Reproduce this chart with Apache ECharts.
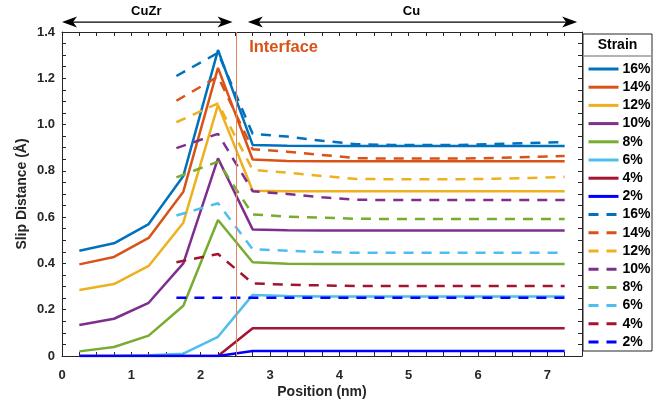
<!DOCTYPE html>
<html>
<head>
<meta charset="utf-8">
<script src="https://cdn.jsdelivr.net/npm/echarts@6/dist/echarts.min.js"></script>
<style>html,body{margin:0;padding:0;background:#fff}#main{width:667px;height:407px}</style>
</head>
<body>
<div id="main"></div>
<script>
var myChart = echarts.init(document.getElementById('main'));

// strain levels and their colours (solid first, then dashed)
var strains = ['16%', '14%', '12%', '10%', '8%', '6%', '4%', '2%'];
var colors = ['#0072BD', '#D95319', '#EDB120', '#7E2F8E', '#77AC30', '#4DBEEE', '#A2142F', '#0000FF'];

// solid lines
var solidX = [0.25, 0.75, 1.25, 1.75, 2.25, 2.75, 3.25, 3.75, 4.25, 4.75, 5.25, 5.75, 6.25, 6.75, 7.25];
var solid16 = [0.455, 0.487, 0.570, 0.778, 1.322, 0.912, 0.908, 0.907, 0.907, 0.907, 0.907, 0.907, 0.907, 0.907, 0.907];
var solid14 = [0.396, 0.428, 0.510, 0.710, 1.245, 0.849, 0.843, 0.841, 0.841, 0.841, 0.841, 0.841, 0.841, 0.841, 0.841];
var solid12 = [0.285, 0.311, 0.389, 0.576, 1.085, 0.714, 0.712, 0.712, 0.712, 0.712, 0.712, 0.712, 0.712, 0.712, 0.712];
var solid10 = [0.134, 0.161, 0.230, 0.400, 0.854, 0.547, 0.543, 0.542, 0.542, 0.542, 0.542, 0.542, 0.542, 0.542, 0.542];
var solid8 = [0.020, 0.039, 0.088, 0.217, 0.588, 0.405, 0.399, 0.398, 0.398, 0.398, 0.398, 0.398, 0.398, 0.398, 0.398];
var solid6 = [0, 0, 0.003, 0.010, 0.083, 0.264, 0.259, 0.257, 0.257, 0.257, 0.257, 0.257, 0.257, 0.257, 0.257];
var solid4 = [0, 0, 0, 0, 0, 0.120, 0.120, 0.120, 0.120, 0.120, 0.120, 0.120, 0.120, 0.120, 0.120];
var solid2 = [0, 0, 0, 0, 0, 0.022, 0.022, 0.022, 0.022, 0.022, 0.022, 0.022, 0.022, 0.022, 0.022];

// dashed lines
var dashX = [1.65, 2.25, 2.75, 3.25, 3.75, 4.25, 4.75, 5.25, 5.75, 6.25, 6.75, 7.25];
var dash16 = [1.210, 1.310, 0.960, 0.948, 0.930, 0.915, 0.912, 0.912, 0.912, 0.916, 0.920, 0.925];
var dash14 = [1.103, 1.207, 0.893, 0.883, 0.869, 0.855, 0.853, 0.853, 0.853, 0.856, 0.860, 0.864];
var dash12 = [1.010, 1.092, 0.804, 0.792, 0.778, 0.765, 0.764, 0.764, 0.764, 0.766, 0.769, 0.774];
var dash10 = [0.898, 0.960, 0.712, 0.700, 0.686, 0.675, 0.674, 0.674, 0.674, 0.674, 0.674, 0.674];
var dash8 = [0.772, 0.840, 0.612, 0.602, 0.598, 0.593, 0.592, 0.592, 0.592, 0.592, 0.592, 0.592];
var dash6 = [0.607, 0.660, 0.461, 0.455, 0.449, 0.446, 0.446, 0.446, 0.446, 0.446, 0.446, 0.446];
var dash4 = [0.405, 0.441, 0.314, 0.308, 0.305, 0.302, 0.302, 0.302, 0.302, 0.302, 0.302, 0.302];
var dash2 = [0.252, 0.252, 0.252, 0.252, 0.252, 0.252, 0.252, 0.252, 0.252, 0.252, 0.252, 0.252];

var solidY = [solid16, solid14, solid12, solid10, solid8, solid6, solid4, solid2];
var dashY = [dash16, dash14, dash12, dash10, dash8, dash6, dash4, dash2];

var interfaceX = 2.52;
var regions = [
    {name: 'CuZr', from: 0, to: 2.46},
    {name: 'Cu', from: 2.68, to: 7.43}
];

var font = 'Liberation Sans, Arial, Helvetica, sans-serif';
var ink = '#262626';

function pairs(xs, ys) {
    return xs.map(function (x, i) { return [x, ys[i]]; });
}

var series = [];
var legendData = [];
strains.forEach(function (s, i) {
    legendData.push(s);
    series.push({
        name: s, type: 'line', symbol: 'none', data: pairs(solidX, solidY[i]),
        lineStyle: {color: colors[i], width: 2.5}, itemStyle: {color: colors[i]}
    });
});
strains.forEach(function (s, i) {
    legendData.push(s + ' ');
    series.push({
        name: s + ' ', type: 'line', symbol: 'none', data: pairs(dashX, dashY[i]),
        lineStyle: {color: colors[i], width: 2.5, type: [10, 8]}, itemStyle: {color: colors[i]}
    });
});
// interface line
series.push({
    type: 'line', data: [], silent: true,
    markLine: {
        silent: true, symbol: 'none', animation: false,
        label: {show: false},
        lineStyle: {color: '#E4845C', width: 1, type: 'solid'},
        data: [{xAxis: interfaceX}]
    }
});

var tickStyle = {show: true, inside: true, length: 4, lineStyle: {color: ink, width: 1}};
var lineStyle = {show: true, onZero: false, lineStyle: {color: ink, width: 1}};

var option = {
    animation: false,
    grid: {left: 62, right: 85, top: 32, bottom: 51, containLabel: false, outerBoundsMode: 'none'},
    legend: {
        data: legendData, orient: 'vertical', left: 582, top: 57,
        itemWidth: 30, itemHeight: 14, itemGap: 4.2, selectedMode: false, z: 10,
        itemStyle: {opacity: 0, borderWidth: 0},
        lineStyle: {width: 3},
        formatter: function (n) { return n.trim(); },
        textStyle: {fontFamily: font, fontWeight: 'bold', fontSize: 14, color: '#000', padding: [0, 0, 0, -1]}
    },
    xAxis: [{
        type: 'value', min: 0, max: 7.5, interval: 0.25,
        name: 'Position (nm)', nameLocation: 'middle', nameGap: 29, nameMoveOverlap: false,
        nameTextStyle: {fontFamily: font, fontWeight: 'bold', fontSize: 14, color: ink},
        axisLine: lineStyle, axisTick: tickStyle, splitLine: {show: false},
        axisLabel: {
            margin: 13, fontFamily: font, fontWeight: 'bold', fontSize: 13, color: ink,
            formatter: function (v) {
                return Math.abs(v - Math.round(v)) < 1e-6 ? String(Math.round(v)) : '';
            }
        }
    }, {
        type: 'value', position: 'top', min: 0, max: 7.5, interval: 0.25,
        axisLine: lineStyle, axisTick: tickStyle, splitLine: {show: false}, axisLabel: {show: false}
    }],
    yAxis: [{
        type: 'value', min: 0, max: 1.4, interval: 0.05,
        name: 'Slip Distance (Å)', nameLocation: 'middle', nameGap: 33, nameMoveOverlap: false,
        nameTextStyle: {fontFamily: font, fontWeight: 'bold', fontSize: 14, color: ink},
        axisLine: lineStyle, axisTick: tickStyle, splitLine: {show: false},
        axisLabel: {
            margin: 7, fontFamily: font, fontWeight: 'bold', fontSize: 13, color: ink,
            formatter: function (v) {
                if (Math.abs(v * 5 - Math.round(v * 5)) > 1e-6) return '';
                return v < 1e-6 ? '0' : v.toFixed(1);
            }
        }
    }, {
        type: 'value', position: 'right', min: 0, max: 1.4, interval: 0.05,
        axisLine: lineStyle, axisTick: tickStyle, splitLine: {show: false}, axisLabel: {show: false}
    }],
    series: series
};
myChart.setOption(option);

// annotations: region arrows above the plot, interface label, legend box
var gfx = [];
var arrowY = myChart.convertToPixel({xAxisIndex: 0, yAxisIndex: 0}, [0, 1.443])[1];
function head(tip, dir) {
    return {
        type: 'polygon', silent: true,
        shape: {points: [[tip, arrowY], [tip + dir * 15, arrowY - 5.5], [tip + dir * 11, arrowY], [tip + dir * 15, arrowY + 5.5]]},
        style: {fill: '#000'}
    };
}
regions.forEach(function (r) {
    var x1 = myChart.convertToPixel({xAxisIndex: 0}, r.from);
    var x2 = myChart.convertToPixel({xAxisIndex: 0}, r.to);
    gfx.push({type: 'line', silent: true, shape: {x1: x1 + 4, y1: arrowY, x2: x2 - 4, y2: arrowY}, style: {stroke: '#000', lineWidth: 1.3}});
    gfx.push(head(x1, 1));
    gfx.push(head(x2, -1));
    gfx.push({
        type: 'text', silent: true, x: (x1 + x2) / 2 - 1, y: arrowY - 4,
        style: {text: r.name, fill: '#000', font: 'bold 13px ' + font, align: 'center', verticalAlign: 'bottom'}
    });
});
var ip = myChart.convertToPixel({xAxisIndex: 0, yAxisIndex: 0}, [2.7, 1.335]);
gfx.push({
    type: 'text', silent: true, x: ip[0], y: ip[1],
    style: {text: 'Interface', fill: '#D95319', font: 'bold 16.5px ' + font, align: 'left', verticalAlign: 'middle'}
});
gfx.push({type: 'rect', silent: true, z: 1, shape: {x: 583, y: 34, width: 69, height: 317}, style: {fill: '#fff', stroke: ink, lineWidth: 1}});
gfx.push({type: 'line', silent: true, z: 2, shape: {x1: 583, y1: 56, x2: 652, y2: 56}, style: {stroke: '#9a9a9a', lineWidth: 1.5}});
gfx.push({
    type: 'text', silent: true, z: 2, x: 617.5, y: 45,
    style: {text: 'Strain', fill: '#000', font: 'bold 14px ' + font, align: 'center', verticalAlign: 'middle'}
});
myChart.setOption({graphic: gfx});
</script>
</body>
</html>
